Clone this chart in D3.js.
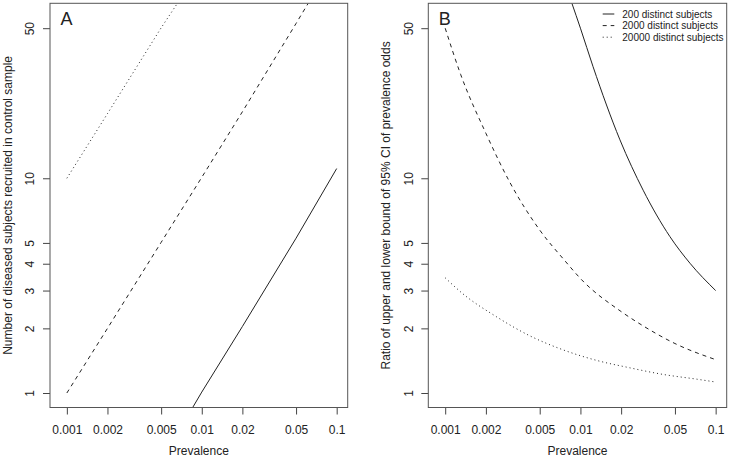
<!DOCTYPE html>
<html>
<head>
<meta charset="utf-8">
<script src="https://cdn.jsdelivr.net/npm/d3@7"></script>
<style>
body { margin: 0; background: #fff; }
svg { display: block; font-family: "Liberation Sans", Arial, sans-serif; }
text { fill: #222; }
</style>
</head>
<body>
<svg id="chart" width="730" height="458"></svg>
<script>
var xTicks = [0.001, 0.002, 0.005, 0.01, 0.02, 0.05, 0.1]
var yTicks = [1, 2, 3, 4, 5, 10, 50]
var seriesNames = ['200 distinct subjects', '2000 distinct subjects', '20000 distinct subjects']

// panel A, [prevalence, diseased subjects in control sample]
var countA200 = [[0.0086, 0.86], [0.01, 1.01], [0.02, 2.04], [0.05, 5.26], [0.1, 11.1]]
var countA2000 = [[0.001, 1], [0.002, 2], [0.005, 5.03], [0.01, 10.1], [0.02, 20.4], [0.05, 52.6], [0.0615, 65.3]]
var countA20000 = [[0.001, 10], [0.002, 20], [0.005, 50.2], [0.0066, 65.3]]

// panel B, [prevalence, ratio of CI bounds]
var ratioB200 = [[0.00865, 65.3], [0.01, 50], [0.0124, 33.1], [0.0196, 15.1], [0.0291, 8.8],
  [0.0459, 5.35], [0.0646, 4.02], [0.1, 3.0]]
var ratioB2000 = [[0.001, 50], [0.0013, 30.5], [0.002, 16.2], [0.003, 9.6], [0.005, 5.74],
  [0.0076, 4.16], [0.0102, 3.37], [0.0201, 2.39], [0.03, 2.03], [0.05, 1.70], [0.1, 1.43]]
var ratioB20000 = [[0.001, 3.44], [0.00134, 2.91], [0.00238, 2.27], [0.0042, 1.85], [0.00741, 1.59],
  [0.0131, 1.42], [0.0232, 1.31], [0.041, 1.22], [0.0724, 1.16], [0.1, 1.125]]

var dashes = [null, '4,4', '1,3']

var svg = d3.select('#chart')
var top_ = 3.3, bottom = 407.5

var panels = [
  {id: 'A', left: 50, right: 347.7, series: [countA200, countA2000, countA20000],
    title: 'Number of diseased subjects recruited in control sample', curve: d3.curveLinear},
  {id: 'B', left: 428.3, right: 726.7, series: [ratioB200, ratioB2000, ratioB20000],
    title: 'Ratio of upper and lower bound of 95% CI of prevalence odds', curve: d3.curveMonotoneX}
]

panels.forEach(function(p){
  var x = d3.scaleLog().domain([0.00075, 0.1207]).range([p.left, p.right])
  var y = d3.scaleLog().domain([0.856, 65.3]).range([bottom, top_])

  var g = svg.append('g')

  g.append('clipPath').attr('id', 'clip' + p.id)
    .append('rect')
    .attr('x', p.left).attr('y', top_)
    .attr('width', p.right - p.left).attr('height', bottom - top_)

  var line = d3.line()
    .x(function(d){ return x(d[0]) })
    .y(function(d){ return y(d[1]) })
    .curve(p.curve)

  g.append('g').attr('clip-path', 'url(#clip' + p.id + ')')
    .selectAll('path').data(p.series).enter().append('path')
    .attr('d', line)
    .attr('fill', 'none')
    .attr('stroke', '#222')
    .attr('stroke-width', 1)
    .attr('stroke-dasharray', function(d, i){ return dashes[i] })

  var xAxis = g.append('g')
    .attr('transform', 'translate(0,' + bottom + ')')
    .call(d3.axisBottom(x).tickValues(xTicks).tickFormat(String).tickSize(7).tickPadding(11))
  xAxis.select('.domain').remove()
  xAxis.selectAll('line').attr('stroke', '#444')
  xAxis.selectAll('text').style('font-size', '12px').style('font-family', null).attr('fill', '#222')

  var yAxis = g.append('g')
    .attr('transform', 'translate(' + p.left + ',0)')
    .call(d3.axisLeft(y).tickValues(yTicks).tickFormat(String).tickSize(7))
  yAxis.select('.domain').remove()
  yAxis.selectAll('line').attr('stroke', '#444')
  yAxis.selectAll('text')
    .attr('x', null).attr('dy', null)
    .attr('text-anchor', 'middle')
    .attr('transform', 'translate(-15.7,0) rotate(-90)')
    .style('font-size', '12px').style('font-family', null).attr('fill', '#222')

  g.append('rect')
    .attr('x', p.left).attr('y', top_)
    .attr('width', p.right - p.left).attr('height', bottom - top_)
    .attr('fill', 'none').attr('stroke', '#555')

  g.append('text')
    .attr('x', (p.left + p.right) / 2).attr('y', 455)
    .attr('text-anchor', 'middle')
    .style('font-size', '12px')
    .text('Prevalence')

  g.append('text')
    .attr('transform', 'translate(' + (p.left - 38.5) + ',' + (top_ + bottom) / 2 + ') rotate(-90)')
    .attr('text-anchor', 'middle')
    .style('font-size', '12px')
    .text(p.title)

  g.append('text')
    .attr('x', p.left + 10.5).attr('y', 25)
    .style('font-size', '18px')
    .text(p.id)
})

// legend in panel B
var legend = svg.append('g').selectAll('g').data(seriesNames).enter().append('g')
  .attr('transform', function(d, i){ return 'translate(602.7,' + (14 + i * 11.6) + ')' })

legend.append('line')
  .attr('x2', 11.6)
  .attr('stroke', '#222')
  .attr('stroke-dasharray', function(d, i){ return dashes[i] })

legend.append('text')
  .attr('x', 19.6).attr('y', 3.8)
  .style('font-size', '10px')
  .text(function(d){ return d })
</script>
</body>
</html>
